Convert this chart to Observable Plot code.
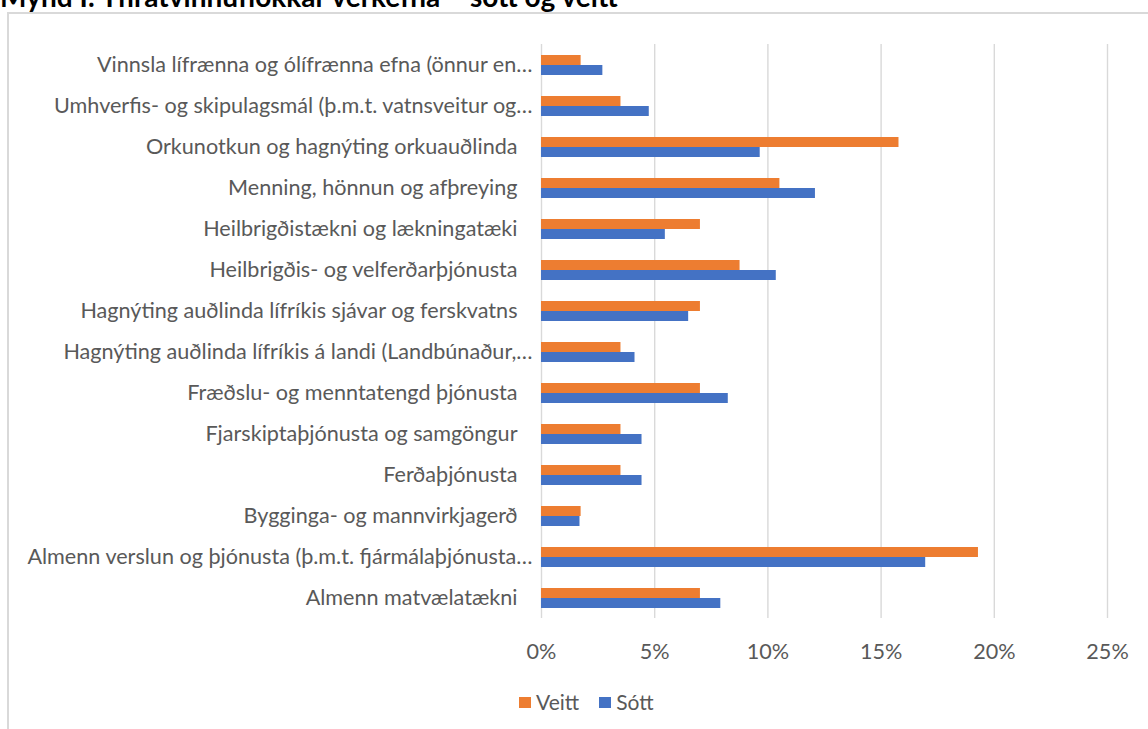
<!DOCTYPE html>
<html>
<head>
<meta charset="utf-8">
<script src="https://cdn.jsdelivr.net/npm/d3@7"></script>
<script src="https://cdn.jsdelivr.net/npm/@observablehq/plot@0.6"></script>
<style>
  html, body { margin: 0; padding: 0; background: #fff; overflow: hidden; }
  body { width: 1148px; height: 729px; position: relative; font-family: Lato, "Open Sans", sans-serif; }
  #title { position: absolute; left: 0px; top: -18px; font-weight: bold; font-size: 28px; line-height: 28px; color: #000; white-space: nowrap; }
  #frame { position: absolute; left: 7px; top: 12px; width: 1200px; height: 800px; border: 2px solid #d9d9d9; box-sizing: border-box; }
  #chart { position: absolute; left: 0; top: 0; }
  #legend { position: absolute; left: 519px; top: 690px; font-size: 21px; line-height: 24px; color: #595959; display: flex; align-items: center; }
  #legend .sw { display: inline-block; width: 12px; height: 11px; margin-right: 5px; }
  #legend .item { display: flex; align-items: center; margin-right: 20px; }
</style>
</head>
<body>
<div id="title">Mynd I: Yfirátvinnuflokkar verkefna – sótt og veitt</div>
<div id="frame"></div>
<div id="chart"></div>
<div id="legend"></div>
<script>
const categories = [
  "Vinnsla lífrænna og ólífrænna efna (önnur en…",
  "Umhverfis- og skipulagsmál (þ.m.t. vatnsveitur og…",
  "Orkunotkun og hagnýting orkuauðlinda",
  "Menning, hönnun og afþreying",
  "Heilbrigðistækni og lækningatæki",
  "Heilbrigðis- og velferðarþjónusta",
  "Hagnýting auðlinda lífríkis sjávar og ferskvatns",
  "Hagnýting auðlinda lífríkis á landi (Landbúnaður,…",
  "Fræðslu- og menntatengd þjónusta",
  "Fjarskiptaþjónusta og samgöngur",
  "Ferðaþjónusta",
  "Bygginga- og mannvirkjagerð",
  "Almenn verslun og þjónusta (þ.m.t. fjármálaþjónusta…",
  "Almenn matvælatækni"
];
const veitt = [1.75, 3.51, 15.79, 10.53, 7.02, 8.77, 7.02, 3.51, 7.02, 3.51, 3.51, 1.75, 19.30, 7.02];
const sott  = [2.71, 4.76, 9.66, 12.10, 5.47, 10.37, 6.50, 4.13, 8.25, 4.44, 4.44, 1.70, 16.97, 7.92];
const seriesNames = ["Veitt", "Sótt"];
const seriesColors = ["#ED7D31", "#4472C4"];
const xTicks = [0, 5, 10, 15, 20, 25];

const rows = [];
categories.forEach((c, i) => {
  rows.push({category: c, series: "Veitt", value: veitt[i]});
  rows.push({category: c, series: "Sótt", value: sott[i]});
});

const truncated = categories.filter(c => c.endsWith("…"));
const full = categories.filter(c => !c.endsWith("…"));

const labelStyle = {fontSize: 21.6, fill: "#595959", fontFamily: "Lato, 'Open Sans', sans-serif"};

const chart = Plot.plot({
  width: 1148,
  height: 729,
  marginLeft: 541,
  marginRight: 41,
  marginTop: 41,
  marginBottom: 108,
  style: {fontFamily: "Lato, 'Open Sans', sans-serif", background: "transparent", overflow: "visible"},
  x: {domain: [0, 25], axis: null},
  fy: {domain: categories, padding: 0, axis: null},
  y: {domain: seriesNames, paddingInner: 0, paddingOuter: 0.93, axis: null},
  color: {domain: seriesNames, range: seriesColors},
  marks: [
    Plot.gridX(xTicks, {stroke: "#d9d9d9", strokeOpacity: 1, strokeWidth: 1.4}),
    Plot.barX(rows, {fy: "category", y: "series", x: "value", fill: "series"}),
    Plot.text(full, {fy: d => d, text: d => d, frameAnchor: "left", textAnchor: "end", dx: -24, ...labelStyle}),
    Plot.text(truncated, {fy: d => d, text: d => d, frameAnchor: "left", textAnchor: "end", dx: -9, ...labelStyle}),
    Plot.axisX(xTicks, {anchor: "bottom", facetAnchor: "bottom", tickSize: 0, tickPadding: 25, tickFormat: d => d + "%", ...labelStyle, label: null})
  ]
});
document.getElementById("chart").appendChild(chart);

const legend = document.getElementById("legend");
seriesNames.forEach((s, i) => {
  const item = document.createElement("span");
  item.className = "item";
  const sw = document.createElement("span");
  sw.className = "sw";
  sw.style.background = seriesColors[i];
  item.appendChild(sw);
  item.appendChild(document.createTextNode(s));
  legend.appendChild(item);
});
</script>
</body>
</html>
